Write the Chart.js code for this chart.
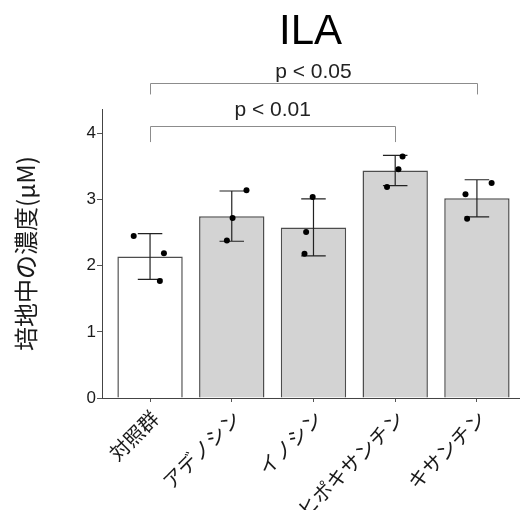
<!DOCTYPE html>
<html>
<head>
<meta charset="utf-8">
<script src="https://cdn.jsdelivr.net/npm/chart.js@4"></script>
<style>
html,body{margin:0;padding:0;background:#fff;}
#wrap{width:523px;height:510px;}
</style>
</head>
<body>
<div id="wrap"><canvas id="c" width="523" height="510"></canvas></div>
<script>
const categories = ['対照群', 'アデノシン', 'イノシン', 'ヒポキサンチン', 'キサンチン'];
const means = [2.14, 2.75, 2.58, 3.44, 3.02];
const sd = [0.345, 0.38, 0.43, 0.23, 0.28];
const rep1 = [2.45, 3.14, 3.04, 3.65, 3.25];
const rep2 = [2.19, 2.72, 2.51, 3.46, 3.08];
const rep3 = [1.77, 2.38, 2.18, 3.19, 2.71];
const jitter1 = [-0.20, 0.18, -0.01, 0.09, 0.18];
const jitter2 = [0.17, 0.01, -0.09, 0.04, -0.14];
const jitter3 = [0.12, -0.06, -0.11, -0.10, -0.12];
const yTicks = [0, 1, 2, 3, 4];
const brackets = [
  {from: 0, to: 4, y: 4.76, drop: 4.59, textY: 4.84, label: 'p < 0.05'},
  {from: 0, to: 3, y: 4.12, drop: 3.87, textY: 4.27, label: 'p < 0.01'}
];
const barFill = ['#ffffff', '#d3d3d3', '#d3d3d3', '#d3d3d3', '#d3d3d3'];

const jpFont = '"Noto Sans CJK JP", "Noto Sans", sans-serif';
const latFont = '"Liberation Sans", Arial, sans-serif';

const barData = categories.map((c, i) => ({x: i, y: means[i]}));
const pts = [];
[[rep1, jitter1], [rep2, jitter2], [rep3, jitter3]].forEach(([r, j]) => {
  r.forEach((v, i) => pts.push({x: i + j[i], y: v}));
});

const errPlugin = {
  id: 'errbars',
  afterDatasetDraw(chart, args) {
    if (args.index !== 0) return;
    const ctx = chart.ctx, xs = chart.scales.x, ys = chart.scales.y;
    ctx.save();
    ctx.strokeStyle = '#222';
    ctx.lineWidth = 1.2;
    means.forEach((m, i) => {
      const x = xs.getPixelForValue(i);
      const x0 = xs.getPixelForValue(i - 0.15), x1 = xs.getPixelForValue(i + 0.15);
      const yt = ys.getPixelForValue(m + sd[i]), yb = ys.getPixelForValue(m - sd[i]);
      ctx.beginPath();
      ctx.moveTo(x, yt); ctx.lineTo(x, yb);
      ctx.moveTo(x0, yt); ctx.lineTo(x1, yt);
      ctx.moveTo(x0, yb); ctx.lineTo(x1, yb);
      ctx.stroke();
    });
    ctx.restore();
  },
  afterDraw(chart) {
    const ctx = chart.ctx, xs = chart.scales.x, ys = chart.scales.y;
    ctx.save();
    ctx.strokeStyle = '#8c8c8c';
    ctx.lineWidth = 1;
    ctx.fillStyle = '#222';
    ctx.font = '21px ' + latFont;
    ctx.textAlign = 'center';
    ctx.textBaseline = 'alphabetic';
    brackets.forEach(b => {
      const xa = xs.getPixelForValue(b.from), xb = xs.getPixelForValue(b.to);
      const y = Math.round(ys.getPixelForValue(b.y)) + 0.5, yd = ys.getPixelForValue(b.drop);
      ctx.beginPath();
      ctx.moveTo(Math.round(xa) + 0.5, yd); ctx.lineTo(Math.round(xa) + 0.5, y);
      ctx.lineTo(Math.round(xb) + 0.5, y); ctx.lineTo(Math.round(xb) + 0.5, yd);
      ctx.stroke();
      ctx.fillText(b.label, (xa + xb) / 2, ys.getPixelForValue(b.textY));
    });
    ctx.restore();
  }
};

new Chart(document.getElementById('c'), {
  type: 'bar',
  data: {
    datasets: [
      {
        type: 'bar',
        data: barData,
        backgroundColor: barFill,
        borderColor: '#4d4d4d',
        borderWidth: 1.5,
        categoryPercentage: 0.8,
        barPercentage: 1.0,
        order: 2
      },
      {
        type: 'scatter',
        data: pts,
        pointRadius: 3,
        pointBackgroundColor: '#000',
        pointBorderColor: '#000',
        pointBorderWidth: 0,
        order: 1
      }
    ]
  },
  options: {
    responsive: false,
    animation: false,
    events: [],
    layout: {padding: 0},
    plugins: {
      legend: {display: false},
      tooltip: {enabled: false},
      title: {
        display: true,
        text: 'ILA',
        fullSize: false,
        color: '#000',
        font: {family: latFont, size: 42, weight: 'normal', lineHeight: 1.2},
        padding: {top: 7, bottom: 51.6}
      }
    },
    scales: {
      x: {
        type: 'linear',
        offset: false,
        min: -0.588,
        max: 4.515,
        afterFit(s) { s.height = 112; },
        afterBuildTicks(s) { s.ticks = categories.map((c, i) => ({value: i})); },
        ticks: {
          autoSkip: false,
          maxRotation: 45,
          minRotation: 45,
          padding: 4,
          labelOffset: 5,
          color: '#1a1a1a',
          font: {family: jpFont, size: 20},
          callback: (v) => categories[v]
        },
        grid: {drawOnChartArea: false, offset: false, tickLength: 4, color: '#555', lineWidth: 1},
        border: {display: true, color: '#444', width: 1}
      },
      y: {
        type: 'linear',
        min: 0,
        max: 4.37,
        afterFit(s) { s.width = 102; },
        afterBuildTicks(s) { s.ticks = yTicks.map(v => ({value: v})); },
        ticks: {
          padding: 1,
          color: '#1a1a1a',
          font: {family: latFont, size: 17}
        },
        grid: {drawOnChartArea: false, tickLength: 5, color: '#555', lineWidth: 1},
        border: {display: true, color: '#444', width: 1},
        title: {
          display: true,
          text: '培地中の濃度(μM)',
          color: '#1a1a1a',
          font: {family: jpFont, size: 24, lineHeight: 1.2},
          padding: {top: 11, bottom: 0}
        }
      }
    }
  },
  plugins: [errPlugin]
});
</script>
</body>
</html>
